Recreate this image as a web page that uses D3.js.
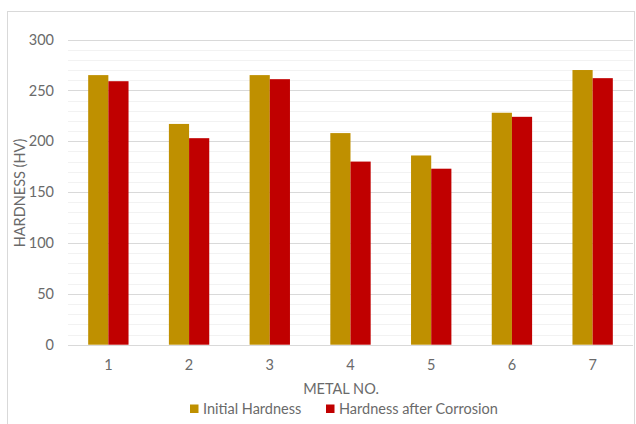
<!DOCTYPE html>
<html><head><meta charset="utf-8">
<script src="https://cdn.jsdelivr.net/npm/d3@7/dist/d3.min.js"></script>
<style>body{margin:0;background:#fff}svg{display:block}text{font-family:Lato,"Open Sans",sans-serif}</style>
</head><body><svg id="c" width="636" height="424"></svg>
<script>
const categories = ["1","2","3","4","5","6","7"];
const seriesNames = ["Initial Hardness","Hardness after Corrosion"];
const initialHardness = [265,217,265,208,186,228,270];
const afterCorrosion = [259,203,261,180,173,224,262];
const yTicks = [0,50,100,150,200,250,300];
const colors = ["#BF9000","#C00000"];

const txt = "#6a6a6a", fs = "14.5px";
const svg = d3.select("#c");
svg.append("rect").attr("x",7.5).attr("y",11.5).attr("width",627).attr("height",420)
  .attr("fill","#fff").attr("stroke","#d9d9d9");

const x0=68,x1=633,y0=344.7,yTop=39.5;
const x = d3.scaleBand().domain(categories).range([x0,x1]).paddingInner(0.5).paddingOuter(0.25);
const xs = d3.scaleBand().domain(seriesNames).range([0,x.bandwidth()]);
const y = d3.scaleLinear().domain([0,300]).range([y0,yTop]);

const g = svg.append("g");
g.selectAll("line.minor").data(d3.range(0,301,10).filter(v=>v%50!==0)).join("line")
  .attr("x1",x0).attr("x2",x1).attr("y1",d=>Math.round(y(d))+0.5).attr("y2",d=>Math.round(y(d))+0.5)
  .attr("stroke","#f2f2f2");
g.selectAll("line.major").data(yTicks).join("line")
  .attr("x1",x0).attr("x2",x1).attr("y1",d=>Math.round(y(d))+0.5).attr("y2",d=>Math.round(y(d))+0.5)
  .attr("stroke","#d9d9d9");

const data = categories.map((c,i)=>({c, vals:[initialHardness[i],afterCorrosion[i]]}));
const grp = svg.append("g").selectAll("g").data(data).join("g").attr("transform",d=>`translate(${x(d.c)},0)`);
grp.selectAll("rect").data(d=>d.vals.map((v,j)=>({v,s:seriesNames[j],j}))).join("rect")
  .attr("x",d=>xs(d.s)).attr("width",xs.bandwidth())
  .attr("y",d=>y(d.v)).attr("height",d=>y0-y(d.v)).attr("fill",d=>colors[d.j]);

const ya = svg.append("g").attr("transform",`translate(${x0},0)`)
  .call(d3.axisLeft(y).tickValues(yTicks).tickSize(0).tickPadding(14));
ya.select(".domain").remove();
ya.selectAll("text").attr("fill",txt).style("font-size",fs).style("font-family","Lato,sans-serif");

const xa = svg.append("g").attr("transform",`translate(0,${y0})`)
  .call(d3.axisBottom(x).tickSize(0).tickPadding(15));
xa.select(".domain").remove();
xa.selectAll("text").attr("fill",txt).style("font-size",fs).style("font-family","Lato,sans-serif");

svg.append("text").attr("x",341).attr("y",394).attr("text-anchor","middle")
  .attr("fill",txt).style("font-size",fs).text("METAL NO.");
svg.append("text").attr("transform","translate(25,193) rotate(-90)").attr("text-anchor","middle")
  .attr("fill",txt).style("font-size",fs).text("HARDNESS (HV)");

const legX = [190,326];
seriesNames.forEach((s,i)=>{
  svg.append("rect").attr("x",legX[i]).attr("y",404.5).attr("width",8.5).attr("height",8.5).attr("fill",colors[i]);
  svg.append("text").attr("x",legX[i]+13).attr("y",414).attr("fill",txt).style("font-size",fs).text(s);
});
</script></body></html>
